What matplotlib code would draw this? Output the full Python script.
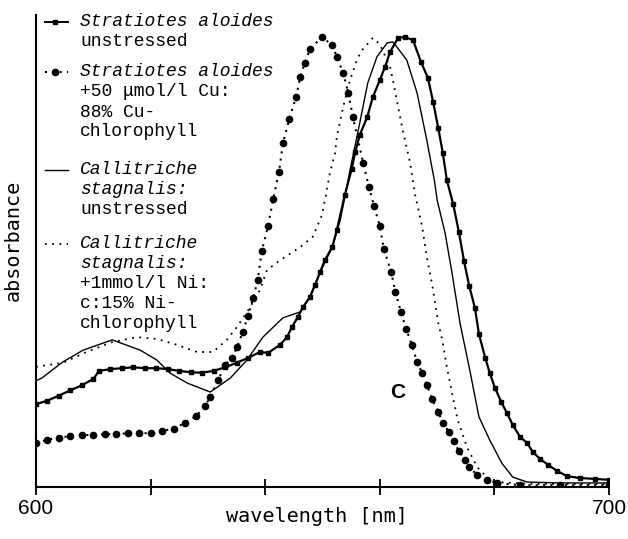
import matplotlib
matplotlib.use("Agg")
import matplotlib.pyplot as plt
from matplotlib.lines import Line2D

# --- data (wavelength nm, relative absorbance) ---
strat_x = [600, 602, 604, 606, 608, 610, 611, 613, 615, 617, 619, 621, 623, 625,
           627, 629, 631, 633, 635, 637, 639.1, 640.5, 642.6, 643.8, 644.7, 645.7,
           646.6, 647.8, 648.7, 649.6, 650.4, 651.7, 652.5, 653.9, 655.1, 655.7,
           656.5, 657.8, 658.8, 660.0, 660.9, 661.8, 663.2, 664.4, 665.8, 667.2,
           668.4, 669.3, 670.2, 671.0, 671.7, 672.8, 673.8, 674.7, 675.6, 676.6,
           677.3, 678.4, 679.2, 680.1, 681.2, 682.2, 683.2, 684.5, 685.7, 686.7,
           688.0, 689.4, 690.9, 692.7, 694.9, 697.5, 700.0]
strat_y = [0.184, 0.192, 0.203, 0.215, 0.226, 0.240, 0.258, 0.262, 0.264, 0.266,
           0.264, 0.264, 0.262, 0.258, 0.255, 0.254, 0.258, 0.266, 0.276, 0.287,
           0.300, 0.298, 0.316, 0.333, 0.356, 0.378, 0.400, 0.422, 0.449, 0.478,
           0.504, 0.533, 0.571, 0.649, 0.707, 0.744, 0.782, 0.822, 0.867, 0.904,
           0.933, 0.967, 0.998, 1.000, 0.993, 0.944, 0.909, 0.856, 0.798, 0.742,
           0.682, 0.629, 0.567, 0.502, 0.447, 0.398, 0.340, 0.287, 0.253, 0.220,
           0.189, 0.164, 0.138, 0.111, 0.098, 0.078, 0.062, 0.049, 0.036, 0.024,
           0.020, 0.018, 0.016]

cu_x = [600, 602, 604, 606, 608, 610, 612, 614, 616, 618, 620, 622, 624, 626,
        628, 629.5, 630.4, 631.8, 633.0, 634.2, 635.1, 636.1, 637.0, 637.9, 638.7,
        639.4, 640.5, 641.4, 642.4, 643.1, 644.2, 645.4, 646.1, 646.9, 647.8,
        649.9, 651.7, 652.5, 653.6, 654.5, 655.3, 657.1, 658.1, 659.0, 660.0,
        660.7, 662.0, 662.7, 663.7, 664.6, 665.6, 666.5, 667.4, 668.2, 669.1,
        670.2, 671.0, 672.1, 672.9, 673.8, 674.9, 675.6, 677.0, 678.7, 680.5,
        684.5, 691.4, 700.0]
cu_y = [0.098, 0.105, 0.110, 0.113, 0.115, 0.116, 0.117, 0.118, 0.119, 0.119,
        0.120, 0.124, 0.130, 0.142, 0.158, 0.180, 0.200, 0.238, 0.271, 0.287,
        0.311, 0.345, 0.381, 0.420, 0.460, 0.524, 0.580, 0.640, 0.700, 0.764,
        0.818, 0.867, 0.911, 0.942, 0.973, 1.000, 0.982, 0.956, 0.920, 0.876,
        0.822, 0.720, 0.667, 0.624, 0.580, 0.529, 0.478, 0.433, 0.389, 0.351,
        0.316, 0.278, 0.253, 0.227, 0.196, 0.167, 0.142, 0.122, 0.102, 0.080,
        0.060, 0.044, 0.027, 0.016, 0.009, 0.004, 0.004, 0.004]

calli_x = [600, 601.0, 604.7, 608.2, 613.3, 618.2, 621.1, 623.4, 626.4, 630.4,
           633.9, 636.8, 639.6, 643.1, 646.1, 647.8, 649.6, 651.7, 653.1, 654.8,
           656.5, 657.9, 659.5, 661.3, 662.3, 664.7, 666.5, 668.2, 669.6, 670.0,
           671.4, 672.6, 674.0, 675.7, 677.3, 679.2, 681.3, 683.2, 685.7, 691.4,
           700.0]
calli_y = [0.236, 0.242, 0.278, 0.304, 0.327, 0.304, 0.282, 0.253, 0.231, 0.211,
           0.242, 0.282, 0.333, 0.376, 0.389, 0.422, 0.478, 0.533, 0.593, 0.704,
           0.809, 0.898, 0.956, 0.987, 0.989, 0.949, 0.876, 0.771, 0.676, 0.638,
           0.564, 0.476, 0.364, 0.260, 0.156, 0.104, 0.053, 0.022, 0.011, 0.009,
           0.009]

ni_x = [600, 604.7, 608.8, 613.3, 617.6, 621.1, 624.6, 628.1, 630.9, 633.3,
        635.1, 637.3, 639.1, 640.3, 642.6, 646.1, 648.3, 649.9, 650.6, 651.3,
        652.2, 652.5, 653.6, 654.8, 656.0, 656.9, 658.8, 660.0, 661.8, 662.3,
        663.2, 664.0, 665.3, 666.1, 667.4, 668.2, 669.1, 670.2, 670.9, 671.7,
        672.6, 673.6, 675.2, 677.0, 678.7, 680.5, 686.2, 700.0]
ni_y = [0.267, 0.276, 0.300, 0.322, 0.333, 0.329, 0.316, 0.300, 0.300, 0.327,
        0.356, 0.398, 0.438, 0.482, 0.504, 0.533, 0.556, 0.604, 0.649, 0.698,
        0.742, 0.778, 0.844, 0.904, 0.949, 0.971, 0.998, 0.984, 0.933, 0.904,
        0.844, 0.793, 0.720, 0.653, 0.578, 0.511, 0.453, 0.364, 0.327, 0.267,
        0.209, 0.149, 0.089, 0.044, 0.022, 0.011, 0.007, 0.007]

legend_lines = [
    [("Stratiotes aloides", True), ("unstressed", False)],
    [("Stratiotes aloides", True), ("+50 \u03bcmol/l Cu:", False),
     ("88% Cu-", False), ("chlorophyll", False)],
    [("Callitriche", True), ("stagnalis:", True), ("unstressed", False)],
    [("Callitriche", True), ("stagnalis:", True), ("+1mmol/l Ni:", False),
     ("c:15% Ni-", False), ("chlorophyll", False)],
]
legend_top = [22, 72, 170, 244]   # pixel rows of first line of each entry

W, H = 628, 539
fig = plt.figure(figsize=(W / 100, H / 100), dpi=100)
ax = fig.add_axes([36 / W, 1 - 487 / H, (609 - 36) / W, (487 - 15) / H])

ax.plot(strat_x, strat_y, color="black", lw=1.6, marker="s", ms=3.5)
ax.plot(cu_x, cu_y, color="black", lw=1.5, ls=(0, (1, 2.5)), marker="o", ms=4.5)
ax.plot(calli_x, calli_y, color="black", lw=1.0)
ax.plot(ni_x, ni_y, color="black", lw=1.3, ls=(0, (1, 3)))

ax.set_xlim(600, 700)
ax.set_ylim(0, (487 - 15) / 450)
ax.spines["top"].set_visible(False)
ax.spines["right"].set_visible(False)
ax.spines["left"].set_linewidth(1.5)
ax.spines["bottom"].set_linewidth(1.5)
ax.set_yticks([])
ax.set_xticks([600, 620, 640, 660, 680, 700])
ax.set_xticklabels(["600", "", "", "", "", "700"])
ax.tick_params(axis="x", direction="inout", length=12, width=1.3, pad=3,
               labelsize=15)
for lab in ax.get_xticklabels():
    lab.set_fontfamily("Liberation Sans")

fig.text(13 / W, 1 - 240 / H, "absorbance", rotation=90, ha="center",
         va="center", family="DejaVu Sans Mono", fontsize=14.5)
fig.text(317 / W, 1 - 517 / H, "wavelength [nm]", ha="center", va="center",
         family="DejaVu Sans Mono", fontsize=14.5)
fig.text(398 / W, 1 - 393 / H, "C", ha="center", va="center",
         family="Liberation Sans", fontweight="bold", fontsize=15)

# legend drawn by hand: handle next to first line, text lines below
handle_styles = [
    dict(ls="-", lw=1.4, marker="s", ms=3.5, markevery=[1]),
    dict(ls=(0, (1, 2.5)), lw=1.5, marker="o", ms=4.5, markevery=[1]),
    dict(ls="-", lw=1.0),
    dict(ls=(0, (1, 3)), lw=1.3),
]
for top, lines, st in zip(legend_top, legend_lines, handle_styles):
    fy = 1 - top / H
    fig.add_artist(Line2D([45 / W, 55 / W, 68 / W], [fy, fy, fy],
                          transform=fig.transFigure, color="black", **st))
    for i, (txt, it) in enumerate(lines):
        fig.text(80 / W, 1 - (top + 20 * i) / H, txt, ha="left", va="center",
                 family="Liberation Mono", fontsize=13,
                 style="italic" if it else "normal")

fig.savefig("out.png", dpi=100)
